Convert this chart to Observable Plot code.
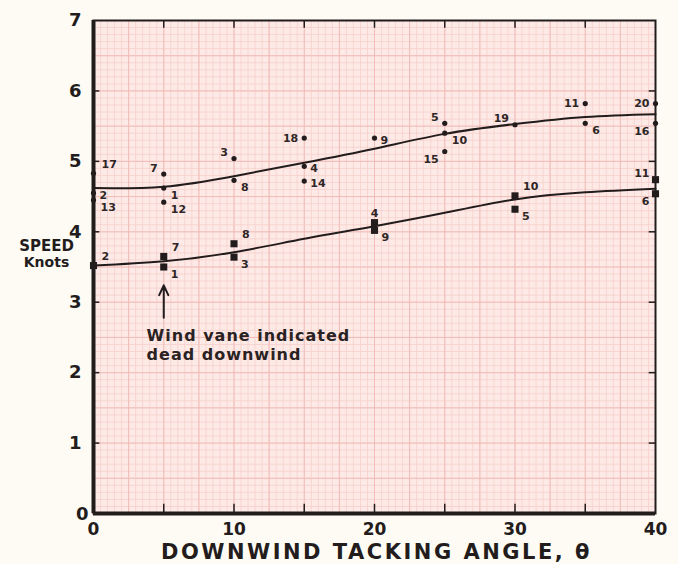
<!DOCTYPE html>
<html>
<head>
<meta charset="utf-8">
<script src="https://cdn.jsdelivr.net/npm/d3@7"></script>
<script src="https://cdn.jsdelivr.net/npm/@observablehq/plot@0.6"></script>
<style>
  html, body { margin: 0; padding: 0; background: #fdfbf3; }
  #chart svg { display: block; }
</style>
</head>
<body>
<div id="chart"></div>
<script>
// Upper series (round dots)
const upperX = [0, 0, 0, 5, 5, 5, 10, 10, 15, 15, 15, 20, 25, 25, 25, 30, 35, 35, 40, 40];
const upperY = [4.83, 4.55, 4.45, 4.82, 4.62, 4.42, 5.04, 4.73, 5.33, 4.93, 4.72, 5.33, 5.54, 5.40, 5.14, 5.52, 5.82, 5.54, 5.82, 5.54];
const upperRun = ["17", "2", "13", "7", "1", "12", "3", "8", "18", "4", "14", "9", "5", "10", "15", "19", "11", "6", "20", "16"];
const upperSide = ["ne", "e", "se", "nw", "se", "se", "nw", "se", "w", "e", "e", "e", "nw", "se", "sw", "nw", "w", "se", "w", "sw"];

// Lower series (square markers)
const lowerX = [0, 5, 5, 10, 10, 20, 20, 30, 30, 40, 40];
const lowerY = [3.52, 3.65, 3.50, 3.83, 3.64, 4.13, 4.02, 4.51, 4.32, 4.74, 4.54];
const lowerRun = ["2", "7", "1", "8", "3", "4", "9", "10", "5", "11", "6"];
const lowerSide = ["ne", "ne", "se", "ne", "se", "n", "se", "ne", "se", "nw", "sw"];

// Faired curves
const curveX = [0, 5, 10, 15, 20, 25, 30, 35, 40];
const upperCurve = [4.62, 4.64, 4.79, 4.98, 5.18, 5.39, 5.53, 5.63, 5.67];
const lowerCurve = [3.52, 3.58, 3.71, 3.90, 4.08, 4.27, 4.46, 4.56, 4.61];

// Ticks
const xTickLabels = [0, 10, 20, 30, 40];
const xTickMarks = [5, 10, 15, 20, 25, 30, 35];
const yTickLabels = [0, 1, 2, 3, 4, 5, 6, 7];

const annotation = "Wind vane indicated\ndead downwind";
const xTitle = "DOWNWIND TACKING ANGLE, \u03b8";

const upper = upperX.map((x, i) => ({x, y: upperY[i], run: upperRun[i], side: upperSide[i]}));
const lower = lowerX.map((x, i) => ({x, y: lowerY[i], run: lowerRun[i], side: lowerSide[i]}));
const upperLine = curveX.map((x, i) => ({x, y: upperCurve[i]}));
const lowerLine = curveX.map((x, i) => ({x, y: lowerCurve[i]}));

const ink = "#231c1c";
const font = "'DejaVu Sans', sans-serif";

const sideOpts = {
  n:  {dx: 0,  dy: -9, textAnchor: "middle"},
  ne: {dx: 8,  dy: -9, textAnchor: "start"},
  e:  {dx: 6,  dy: 2,  textAnchor: "start"},
  se: {dx: 7,  dy: 7,  textAnchor: "start"},
  s:  {dx: 0,  dy: 10, textAnchor: "middle"},
  sw: {dx: -6, dy: 8,  textAnchor: "end"},
  w:  {dx: -6, dy: 0,  textAnchor: "end"},
  nw: {dx: -6, dy: -6, textAnchor: "end"}
};

function labelMarks(data) {
  return Object.keys(sideOpts).map(s => Plot.text(data.filter(d => d.side === s), {
    x: "x", y: "y", text: "run",
    fontSize: 11, fontWeight: "bold", fill: "#2e2626",
    ...sideOpts[s]
  }));
}

const fineX = d3.range(0, 40.01, 0.5);
const fineY = d3.range(0, 7.001, 0.1);
const majorX = d3.range(0, 40.01, 2.5);
const majorY = d3.range(0, 7.001, 0.5);

const chart = Plot.plot({
  width: 678,
  height: 564,
  marginLeft: 93,
  marginRight: 23,
  marginTop: 20,
  marginBottom: 51,
  style: {background: "#fdfbf3", fontFamily: font, color: ink},
  x: {domain: [0, 40], axis: null},
  y: {domain: [0, 7], axis: null},
  marks: [
    Plot.rect([0], {x1: 0, x2: 40, y1: 0, y2: 7, fill: "#fdeae6"}),
    Plot.ruleX(fineX, {stroke: "#f6cfcc", strokeWidth: 0.8}),
    Plot.ruleY(fineY, {stroke: "#f6cfcc", strokeWidth: 0.8}),
    Plot.ruleX(majorX, {stroke: "#f1bcb9", strokeWidth: 1}),
    Plot.ruleY(majorY, {stroke: "#f1bcb9", strokeWidth: 1}),
    // inward tick marks
    Plot.ruleY(yTickLabels.slice(1, -1), {x1: 0, x2: 0.45, stroke: ink, strokeWidth: 1.5}),
    Plot.ruleY(yTickLabels.slice(1, -1), {x1: 39.55, x2: 40, stroke: ink, strokeWidth: 1.5}),
    Plot.ruleX(xTickMarks, {y1: 0, y2: 0.13, stroke: ink, strokeWidth: 1.5}),
    Plot.ruleX(xTickMarks, {y1: 7, y2: 6.89, stroke: ink, strokeWidth: 1.5}),
    // frame
    Plot.frame({stroke: ink, strokeWidth: 2}),
    Plot.ruleX([0], {stroke: ink, strokeWidth: 4}),
    Plot.ruleY([0], {stroke: ink, strokeWidth: 4}),
    // curves
    Plot.line(upperLine, {x: "x", y: "y", curve: "natural", stroke: ink, strokeWidth: 2}),
    Plot.line(lowerLine, {x: "x", y: "y", curve: "natural", stroke: ink, strokeWidth: 2}),
    // points
    Plot.dot(upper, {x: "x", y: "y", r: 2.6, fill: ink, stroke: "none"}),
    Plot.dot(lower, {x: "x", y: "y", symbol: "square", r: 4, fill: ink, stroke: "none"}),
    ...labelMarks(upper),
    ...labelMarks(lower),
    // annotation arrow
    Plot.arrow([0], {x1: 5, y1: 2.78, x2: 5, y2: 3.24, stroke: ink, strokeWidth: 2, headLength: 10, headAngle: 50}),
    Plot.text([annotation], {x: 3.78, y: 2.64, text: d => d, textAnchor: "start", lineAnchor: "top",
      fontSize: 16, fontWeight: "bold", fill: "#2a2222", lineHeight: 1.2}),
    // axis tick labels
    Plot.text(yTickLabels.slice(1), {x: 0, y: d => d, text: d => String(d), dx: -12, textAnchor: "end",
      fontSize: 18, fontWeight: "bold", fill: ink}),
    Plot.text(yTickLabels.slice(0, 1), {x: 0, y: d => d, text: d => String(d), dx: -5, dy: 1, textAnchor: "end",
      fontSize: 18, fontWeight: "bold", fill: ink}),
    Plot.text(xTickLabels, {x: d => d, y: 0, text: d => String(d), dy: 16, fontSize: 17, fontWeight: "bold", fill: ink}),
    // axis titles
    Plot.text(["SPEED"], {x: 0, y: 3.8, text: d => d, dx: -47, fontSize: 15, fontWeight: "bold", fill: ink}),
    Plot.text(["Knots"], {x: 0, y: 3.8, text: d => d, dx: -47, dy: 17, fontSize: 14, fontWeight: "bold", fill: ink}),
    Plot.text([xTitle], {x: 20, y: 0, text: d => d, dx: 2, dy: 39, fontSize: 21, fontWeight: "bold", fill: ink})
  ]
});

// letter spacing for the wide lettering of the original
d3.select(chart).selectAll("text").each(function() {
  const t = this.textContent;
  if (t === xTitle) this.setAttribute("letter-spacing", "2.5");
  else if (t.replace(/\s/g, "") === annotation.replace(/\s/g, "")) this.setAttribute("letter-spacing", "1");
});

document.getElementById("chart").appendChild(chart);
</script>
</body>
</html>
